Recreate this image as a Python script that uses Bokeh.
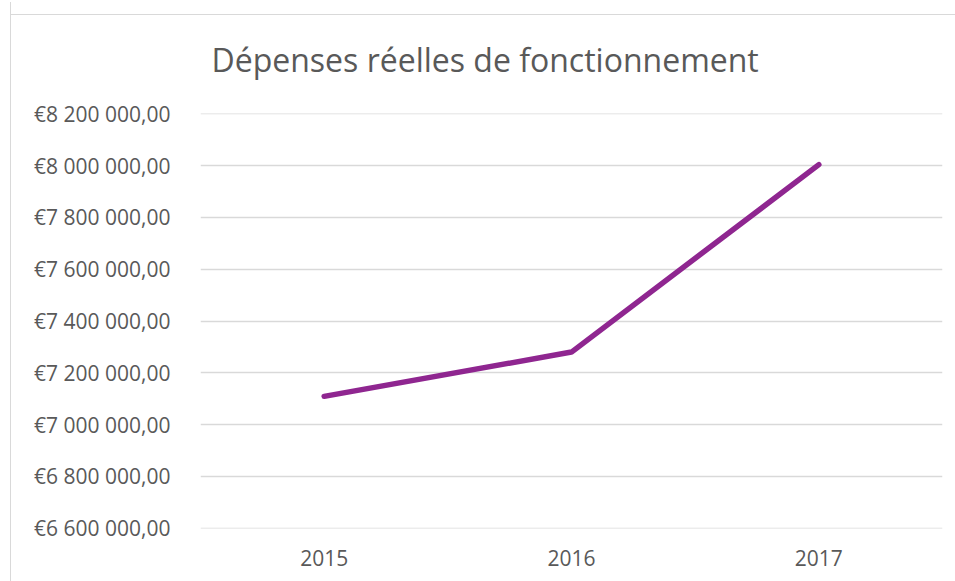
from bokeh.plotting import figure
from bokeh.models import FixedTicker, CustomJSTickFormatter, Range1d
from bokeh.embed import file_html
from bokeh.resources import INLINE

years = ["2015", "2016", "2017"]
values = [7109000, 7280000, 8004000]
y_ticks = [6600000, 6800000, 7000000, 7200000, 7400000, 7600000, 7800000, 8000000, 8200000]
title_text = "Dépenses réelles de fonctionnement"

TEXT = "#595959"
GRID = "#d9d9d9"
FONT = "Open Sans"

p = figure(x_range=years, y_range=Range1d(6598500, 8201500),
           width=945, height=579, output_backend="svg", toolbar_location=None,
           min_border_left=189, min_border_right=14, min_border_top=111, min_border_bottom=53,
           title=title_text)
p.margin = (2, 0, 0, 10)
p.styles = {
    "border-left": "1px solid #d9d9d9",
    "background": "linear-gradient(#d9d9d9, #d9d9d9) 0 12px / 100% 1px no-repeat, white",
}
p.outline_line_color = None
p.background_fill_color = "white"
p.border_fill_color = None

p.title.align = "left"
p.title.offset = 11
p.title.text_font = FONT
p.title.text_font_size = "32px"
p.title.text_font_style = "normal"
p.title.text_color = TEXT
p.title.standoff = 65

p.line(years, values, line_color="#8f2690", line_width=5.5, line_cap="round", line_join="round")

p.xgrid.grid_line_color = None
p.ygrid.grid_line_color = GRID
p.ygrid.grid_line_width = 1.3
p.yaxis.ticker = FixedTicker(ticks=y_ticks)
p.yaxis.formatter = CustomJSTickFormatter(code="""
    const s = Math.round(tick).toString().replace(/\\B(?=(\\d{3})+(?!\\d))/g, ' ');
    return '\\u20ac' + s + ',00';
""")
for ax in (p.xaxis, p.yaxis):
    ax.axis_line_color = None
    ax.major_tick_line_color = None
    ax.minor_tick_line_color = None
    ax.major_label_text_font = FONT
    ax.major_label_text_font_size = "21px"
    ax.major_label_text_color = TEXT
p.yaxis.major_label_standoff = 24
p.xaxis.major_label_standoff = 15

open("out.html", "w").write(file_html(p, INLINE))
